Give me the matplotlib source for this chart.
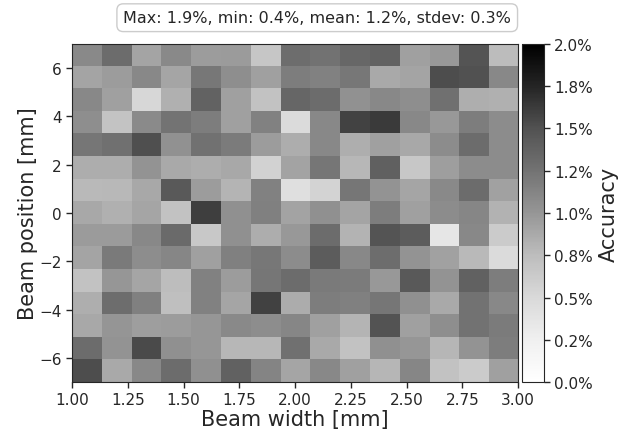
import numpy as np
import matplotlib
matplotlib.use("Agg")
import matplotlib.pyplot as plt
from matplotlib.ticker import StrMethodFormatter
from matplotlib.cm import ScalarMappable
from matplotlib.colors import Normalize

# Beam width range [mm] and beam position range [mm]
width_range = [1.0, 3.0]
position_range = [-7.0, 7.0]

# Accuracy values [%], rows listed from top (position +7) to bottom (position -7)
row_00 = [1.30, 1.56, 1.05, 1.30, 1.13, 1.14, 0.78, 1.55, 1.51, 1.59, 1.62, 1.10, 1.16, 1.72, 0.86]
row_01 = [1.05, 1.13, 1.32, 1.04, 1.47, 1.25, 1.10, 1.42, 1.37, 1.47, 1.01, 1.06, 1.77, 1.74, 1.32]
row_02 = [1.31, 1.10, 0.60, 0.95, 1.62, 1.09, 0.81, 1.60, 1.56, 1.22, 1.32, 1.25, 1.53, 0.97, 0.96]
row_03 = [1.25, 0.80, 1.29, 1.50, 1.41, 1.10, 1.37, 0.55, 1.31, 1.86, 1.93, 1.32, 1.16, 1.41, 1.28]
row_04 = [1.48, 1.53, 1.75, 1.22, 1.52, 1.43, 1.13, 0.98, 1.31, 0.97, 1.10, 1.02, 1.27, 1.56, 1.28]
row_05 = [0.98, 0.98, 1.21, 1.01, 0.98, 1.02, 0.66, 1.07, 1.48, 0.90, 1.64, 0.77, 1.11, 1.27, 1.28]
row_06 = [0.88, 0.89, 1.03, 1.68, 1.13, 0.92, 1.37, 0.52, 0.64, 1.48, 1.21, 1.04, 1.30, 1.56, 1.08]
row_07 = [1.03, 0.95, 1.04, 0.81, 1.90, 1.24, 1.39, 1.07, 1.23, 1.06, 1.42, 1.10, 1.28, 1.33, 0.94]
row_08 = [1.14, 1.14, 1.31, 1.57, 0.76, 1.24, 0.98, 1.16, 1.56, 0.93, 1.72, 1.67, 0.42, 1.32, 0.74]
row_09 = [1.06, 1.44, 1.26, 1.33, 1.10, 1.38, 1.47, 1.27, 1.67, 1.32, 1.55, 1.21, 1.08, 0.88, 0.55]
row_10 = [0.81, 1.18, 1.04, 0.85, 1.37, 1.12, 1.48, 1.56, 1.44, 1.43, 1.16, 1.69, 1.21, 1.63, 1.41]
row_11 = [0.97, 1.54, 1.38, 0.83, 1.37, 1.04, 1.88, 0.99, 1.41, 1.38, 1.48, 1.24, 1.01, 1.51, 1.31]
row_12 = [1.03, 1.19, 1.11, 1.13, 1.18, 1.30, 1.26, 1.33, 1.10, 0.92, 1.73, 1.10, 1.25, 1.51, 1.43]
row_13 = [1.56, 1.21, 1.80, 1.24, 1.18, 0.90, 0.90, 1.53, 1.01, 0.81, 1.24, 1.18, 0.91, 1.21, 1.42]
row_14 = [1.77, 1.01, 1.31, 1.56, 1.24, 1.63, 1.35, 1.04, 1.32, 1.10, 0.91, 1.33, 0.81, 0.73, 1.10]

stats_text = "Max: 1.9%, min: 0.4%, mean: 1.2%, stdev: 0.3%"
cbar_ticks = [0.0, 0.25, 0.5, 0.75, 1.0, 1.25, 1.5, 1.75, 2.0]
x_ticks = [1.0, 1.25, 1.5, 1.75, 2.0, 2.25, 2.5, 2.75, 3.0]
y_ticks = [-6, -4, -2, 0, 2, 4, 6]

grid = np.array([row_00, row_01, row_02, row_03, row_04, row_05, row_06, row_07,
                 row_08, row_09, row_10, row_11, row_12, row_13, row_14])

dark = "#262626"
plt.rcParams.update({
    "font.family": "DejaVu Sans",
    "text.color": dark,
    "axes.labelcolor": dark,
    "xtick.color": dark,
    "ytick.color": dark,
    "axes.edgecolor": dark,
})

fig = plt.figure(figsize=(6.22, 4.35), dpi=100)
ax = fig.add_axes([0.1158, 0.1195, 0.7172, 0.7771])
cax = fig.add_axes([0.839, 0.1195, 0.0354, 0.7771])

cmap = plt.get_cmap("Greys")
norm = Normalize(vmin=0.0, vmax=2.0)
ax.imshow(grid, cmap=cmap, norm=norm, alpha=0.8, aspect="auto", interpolation="nearest",
          origin="upper", extent=[width_range[0], width_range[1], position_range[0], position_range[1]])
ax.set_xlim(width_range)
ax.set_ylim(position_range)
ax.set_xticks(x_ticks)
ax.set_yticks(y_ticks)
ax.xaxis.set_major_formatter(StrMethodFormatter("{x:.2f}"))
ax.tick_params(labelsize=11, length=4, width=1)
ax.set_xlabel("Beam width [mm]", fontsize=15, labelpad=1)
ax.set_ylabel("Beam position [mm]", fontsize=15, labelpad=1)

sm = ScalarMappable(norm=norm, cmap=cmap)
cb = fig.colorbar(sm, cax=cax, ticks=cbar_ticks)
cb.ax.yaxis.set_major_formatter(StrMethodFormatter("{x:.1f}%"))
cb.ax.tick_params(labelsize=11, length=4, width=1)
cb.set_label("Accuracy", fontsize=15)
cb.outline.set_edgecolor(dark)

fig.text(0.51, 0.957, stats_text, ha="center", va="center", fontsize=11.5,
         bbox=dict(boxstyle="round,pad=0.4", fc="white", ec="#cccccc", lw=1))

fig.savefig("out.png", dpi=100)
